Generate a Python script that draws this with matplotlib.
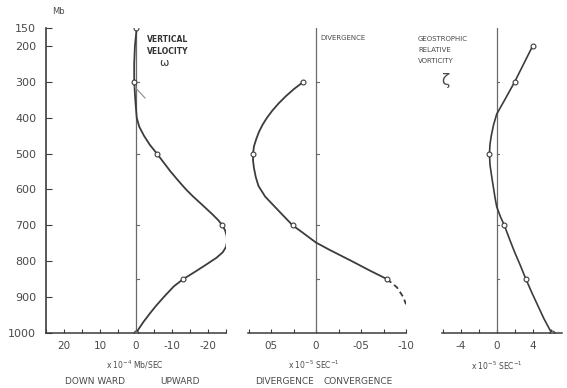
import matplotlib.pyplot as plt

# pressure levels (Mb) of the plotted points
levels = [150, 300, 500, 700, 850, 1000]

# vertical velocity omega (x10^-4 Mb/sec), upward negative
omega_pts = [0, 0.5, -5.8, -24, -13.1, 0]
omega_curve_p = [150, 200, 250, 300, 350, 400, 425, 450, 475, 500, 525, 550, 575, 600,
                 620, 642, 670, 685, 700, 715, 730, 745, 760, 775, 790, 810, 830, 850,
                 870, 900, 925, 945, 970, 1000]
omega_curve = [-0.2, 0.3, 0.5, 0.5, 0.2, -0.2, -0.9, -2.2, -3.8, -5.8, -7.7, -9.6, -11.7, -13.9,
               -15.9, -18.3, -21.3, -22.8, -24.0, -24.8, -25.2, -25.3, -25.0, -24.1, -22.4, -19.4, -16.3, -13.1,
               -10.5, -7.7, -5.5, -3.9, -2.0, 0]

# divergence (x10^-5 sec^-1), convergence negative
div_levels = [300, 500, 700, 850]
div_pts = [0.14, 0.70, 0.26, -0.79]
div_curve_p = [300, 320, 340, 360, 380, 400, 420, 440, 460, 480, 500, 520, 540, 565, 590,
               620, 645, 670, 700, 720, 748, 769, 800, 825, 850]
div_curve = [0.14, 0.245, 0.335, 0.415, 0.485, 0.545, 0.595, 0.635, 0.665, 0.69, 0.70, 0.70, 0.69, 0.67, 0.64,
             0.565, 0.47, 0.375, 0.26, 0.15, 0.0, -0.156, -0.40, -0.59, -0.79]
div_dash_p = [850, 873, 900, 920]
div_dash = [-0.79, -0.90, -0.97, -1.0]

# geostrophic relative vorticity (x10^-5 sec^-1)
vort_levels = [200, 300, 500, 700, 850, 1000]
vort_pts = [4.0, 2.0, -0.8, 0.85, 3.25, 6.1]
vort_curve_p = [200, 250, 300, 325, 350, 390, 420, 450, 475, 500, 530, 560, 600, 625,
                648, 675, 700, 740, 775, 810, 850, 890, 925, 960, 1000]
vort_curve = [4.0, 3.0, 2.0, 1.45, 0.9, 0.0, -0.35, -0.6, -0.75, -0.8, -0.75, -0.58, -0.33, -0.17,
              0.0, 0.4, 0.85, 1.45, 2.0, 2.6, 3.25, 3.95, 4.6, 5.25, 6.1]

p_ticks = [150, 200, 300, 400, 500, 600, 700, 800, 900, 1000]
mark_levels = [300, 500, 700, 850]

ink = "#3c3c3c"
txt = "#4a4a4a"
W, H = 567, 388

def box(x0, x1):
    return [x0 / W, (H - 333) / H, (x1 - x0) / W, 305 / H]

def fx(px):
    return px / W

def fy(py):
    return 1 - py / H

fig = plt.figure(figsize=(5.67, 3.88), dpi=100)
fig.patch.set_facecolor("white")

ax1 = fig.add_axes(box(46, 226))
ax2 = fig.add_axes(box(248, 406))
ax3 = fig.add_axes(box(442, 562))

for ax in (ax1, ax2, ax3):
    ax.set_ylim(1000, 150)
    ax.set_facecolor("none")
    for s in ("top", "right"):
        ax.spines[s].set_visible(False)
    ax.spines["bottom"].set_color(ink)
    ax.spines["bottom"].set_linewidth(1.1)
    ax.tick_params(axis="x", direction="in", length=3, width=0.8, colors=ink,
                   labelcolor=txt, labelsize=7.5, pad=6)
    ax.tick_params(axis="x", which="minor", direction="in", length=3, width=0.8, colors=ink)
    # zero line
    ax.plot([0, 0], [150, 1000], color="#6a6a6a", lw=0.9)

for ax in (ax2, ax3):
    ax.spines["left"].set_visible(False)
    ax.set_yticks([])

ax1.spines["left"].set_color(ink)
ax1.spines["left"].set_linewidth(1.2)
ax1.set_yticks(p_ticks)
ax1.tick_params(axis="y", direction="in", length=4, width=0.8, colors=ink,
                labelcolor=txt, labelsize=8, pad=7)

# panel 1: vertical velocity
ax1.set_xlim(25, -25)
ax1.set_xticks([20, 10, 0, -10, -20], ["20", "10", "0", "-10", "-20"])
ax1.set_xticks([25, 15, 5, -5, -15, -25], minor=True)
ax1.plot(omega_curve, omega_curve_p, color=ink, lw=1.3, solid_joinstyle="round")
ax1.plot(omega_pts, levels, "o", ms=3.5, mfc="white", mec=ink, mew=0.8)
ax1.plot([0.3, -2.5], [315, 345], color="#8a8a8a", lw=0.8)

# panel 2: divergence
ax2.set_xlim(0.756, -1.0)
ax2.set_xticks([0.5, 0, -0.5, -1.0], ["05", "0", "-05", "-10"])
ax2.set_xticks([0.75, 0.25, -0.25, -0.75], minor=True)
ax2.plot(div_curve, div_curve_p, color=ink, lw=1.3, solid_joinstyle="round")
ax2.plot(div_dash, div_dash_p, color=ink, lw=1.3, ls=(0, (3, 2)))
ax2.plot(div_pts, div_levels, "o", ms=3.5, mfc="white", mec=ink, mew=0.8)

# panel 3: vorticity
ax3.set_xlim(-6.08, 7.26)
ax3.set_xticks([-4, 0, 4], ["-4", "0", "4"])
ax3.set_xticks([-6, -2, 2, 6], minor=True)
ax3.plot(vort_curve, vort_curve_p, color=ink, lw=1.2, solid_joinstyle="round")
ax3.plot(vort_pts, vort_levels, "o", ms=3.5, mfc="white", mec=ink, mew=0.8)

# small level marks on the zero lines
for ax, d in ((ax1, -0.9), (ax2, -0.03), (ax3, 0.23)):
    for p in mark_levels:
        ax.plot([0, d], [p, p], color="#6a6a6a", lw=0.8)

# labels
fig.text(fx(58), fy(12), "Mb", fontsize=6, color=txt, ha="center", va="center")

fig.text(fx(147), fy(39), "VERTICAL", fontsize=5.5, color="#333333",
         fontweight="bold", ha="left", va="center")
fig.text(fx(147), fy(51), "VELOCITY", fontsize=5.5, color="#333333",
         fontweight="bold", ha="left", va="center")
fig.text(fx(164), fy(63), "\u03c9", fontsize=8, color="#333333", ha="center", va="center")

fig.text(fx(320), fy(38), "DIVERGENCE", fontsize=5, color=txt, ha="left", va="center")

fig.text(fx(418), fy(39), "GEOSTROPHIC", fontsize=5, color=txt, ha="left", va="center")
fig.text(fx(418), fy(50), "RELATIVE", fontsize=5, color=txt, ha="left", va="center")
fig.text(fx(418), fy(61), "VORTICITY", fontsize=5, color=txt, ha="left", va="center")
fig.text(fx(445), fy(80), "\u03b6", fontsize=11, color=txt, ha="center", va="center")

fig.text(fx(135), fy(365), "x 10$^{-4}$ Mb/SEC", fontsize=5.5, color=txt, ha="center", va="center")
fig.text(fx(95), fy(381), "DOWN WARD", fontsize=6.5, color=txt, ha="center", va="center")
fig.text(fx(180), fy(381), "UPWARD", fontsize=6.5, color=txt, ha="center", va="center")

fig.text(fx(314), fy(365), "x 10$^{-5}$ SEC$^{-1}$", fontsize=5.5, color=txt, ha="center", va="center")
fig.text(fx(284), fy(381), "DIVERGENCE", fontsize=6.5, color=txt, ha="center", va="center")
fig.text(fx(358), fy(381), "CONVERGENCE", fontsize=6.5, color=txt, ha="center", va="center")

fig.text(fx(497), fy(366), "x 10$^{-5}$ SEC$^{-1}$", fontsize=5.5, color=txt, ha="center", va="center")

fig.savefig("out.png", dpi=100, facecolor="white")
